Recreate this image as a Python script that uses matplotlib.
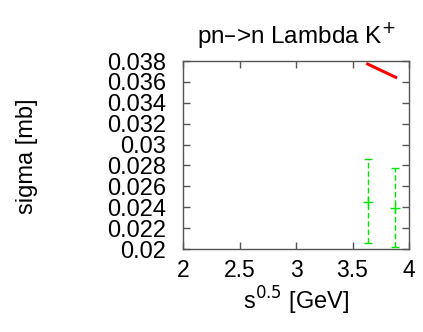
import matplotlib
matplotlib.use("Agg")
import matplotlib.pyplot as plt

plt.rcParams['font.family'] = ['Liberation Sans', 'DejaVu Sans']

# model curve
model_x = [3.634, 3.882]
model_y = [0.03771, 0.03644]

# measurements with error bars
data_x = [3.634, 3.879]
data_y = [0.02453, 0.02396]
data_lo = [0.02061, 0.02017]
data_hi = [0.02859, 0.02779]

xticks = [2, 2.5, 3, 3.5, 4]
xticklabels = ['2', '2.5', '3', '3.5', '4']
yticks = [0.02, 0.022, 0.024, 0.026, 0.028, 0.03, 0.032, 0.034, 0.036, 0.038]
yticklabels = ['0.02', '0.022', '0.024', '0.026', '0.028', '0.03', '0.032', '0.034', '0.036', '0.038']

fig = plt.figure(figsize=(4.23, 3.32), dpi=100)
ax = fig.add_axes([183/423, 1 - 249/332, (409-183)/423, (249-61)/332])

ax.plot(model_x, model_y, color='#ff0000', lw=2.2)

yerr = [[y - lo for y, lo in zip(data_y, data_lo)], [hi - y for y, hi in zip(data_y, data_hi)]]
eb = ax.errorbar(data_x, data_y, yerr=yerr, fmt='+', color='#00e600', ms=7, mew=1,
                 elinewidth=1, capsize=3, capthick=1)
for lc in eb[2]:
    lc.set_linestyle((0, (4, 2)))

ax.set_xlim(2, 4)
ax.set_ylim(0.02, 0.038)
ax.set_xticks(xticks)
ax.set_xticklabels(xticklabels)
ax.set_yticks(yticks)
ax.set_yticklabels(yticklabels)
ax.tick_params(direction='in', length=5, width=1, color='#555555',
               top=True, right=True)
ax.tick_params(axis='x', pad=7, labelsize=16.5)
ax.tick_params(axis='y', pad=12, labelsize=17)
for s in ax.spines.values():
    s.set_color('#555555')
    s.set_linewidth(1)

ax.set_title('pn\u2013>n Lambda K$^{+}$', fontsize=17.5, pad=13)
ax.set_xlabel('s$^{0.5}$ [GeV]', fontsize=17, labelpad=2)
fig.text(27/423, 1 - 156/332, 'sigma [mb]', rotation=90, fontsize=17, ha='center', va='center')

fig.savefig('out.png', dpi=100)
